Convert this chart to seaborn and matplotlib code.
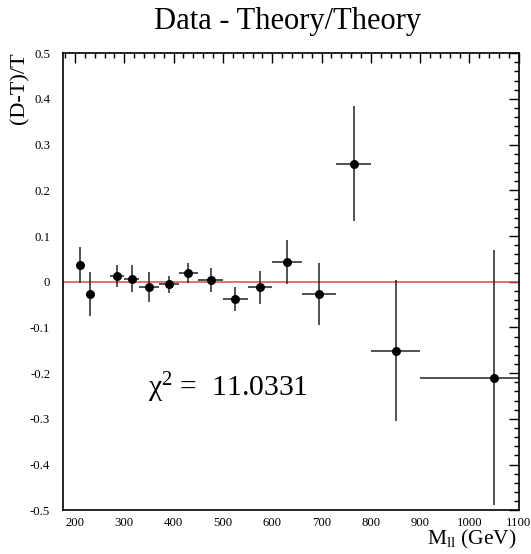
"""Relative deviation of data from theory versus dilepton mass."""

import matplotlib

matplotlib.use("Agg")

import matplotlib.pyplot as plt
import pandas as pd
import seaborn as sns
from matplotlib.ticker import FuncFormatter, MultipleLocator

# bin centres and half widths (GeV)
mass = [210, 230, 285, 315, 350, 390, 430, 475, 525, 575, 630, 695, 765, 850, 1050]
mass_halfwidth = [5, 5, 15, 15, 20, 20, 20, 25, 25, 25, 30, 35, 35, 50, 150]
# (D-T)/T and its error
ratio = [0.036, -0.027, 0.013, 0.007, -0.012, -0.006, 0.019, 0.004,
         -0.037, -0.012, 0.044, -0.027, 0.258, -0.151, -0.210]
ratio_err = [0.039, 0.048, 0.024, 0.029, 0.033, 0.018, 0.022, 0.026,
             0.026, 0.036, 0.048, 0.068, 0.126, 0.154, 0.279]
chi2 = 11.0331

df = pd.DataFrame({"mass": mass, "dm": mass_halfwidth, "ratio": ratio, "err": ratio_err})

sns.set_theme(style="white")
plt.rcParams["font.family"] = ["Liberation Serif", "DejaVu Serif"]
plt.rcParams["mathtext.fontset"] = "custom"
plt.rcParams["mathtext.rm"] = "Liberation Serif"
plt.rcParams["mathtext.it"] = "Liberation Serif:italic"
plt.rcParams["text.color"] = "black"

fig = plt.figure(figsize=(5.31, 5.54), dpi=100)
ax = fig.add_axes([0.118, 0.079, 0.859, 0.825])

ax.axhline(0, color="#e0464c", lw=1.1, zorder=1)
ax.errorbar(df["mass"], df["ratio"], xerr=df["dm"], yerr=df["err"],
            fmt="none", ecolor="#222222", elinewidth=1.1, capsize=0, zorder=2)
sns.scatterplot(data=df, x="mass", y="ratio", ax=ax, color="black",
                s=42, edgecolor="black", linewidth=0, zorder=3, legend=False)

ax.set_xlim(175, 1100)
ax.set_ylim(-0.5, 0.5)
ax.xaxis.set_major_locator(MultipleLocator(100))
ax.xaxis.set_minor_locator(MultipleLocator(20))
ax.yaxis.set_major_locator(MultipleLocator(0.1))
ax.yaxis.set_minor_locator(MultipleLocator(0.02))
ax.yaxis.set_major_formatter(FuncFormatter(lambda v, _: "0" if abs(v) < 1e-9 else f"{v:.1f}"))
ax.tick_params(which="both", direction="in", top=True, right=True,
               labelsize=9.2, colors="black")
ax.tick_params(which="major", length=7, width=1)
ax.tick_params(which="minor", length=3.5, width=1)
ax.tick_params(axis="y", pad=9)
ax.tick_params(axis="x", pad=5)
for sp in ax.spines.values():
    sp.set_color("black")
    sp.set_linewidth(1.2)

ax.set_xlabel("")
ax.set_ylabel("")
fig.text(0.542, 0.962, "Data - Theory/Theory", ha="center", va="center", fontsize=22)
fig.text(0.038, 0.905, "(D-T)/T", rotation=90, ha="center", va="top", fontsize=16)
fig.text(0.972, 0.017, r"M$_{\rm ll}$ (GeV)", ha="right", va="baseline", fontsize=15.5)
ax.text(0.187, 0.25, r"χ$^{2}$ =  " + f"{chi2:.4f}", transform=ax.transAxes,
        ha="left", va="baseline", fontsize=21.3)

fig.savefig("out.png", dpi=100, facecolor="white")
